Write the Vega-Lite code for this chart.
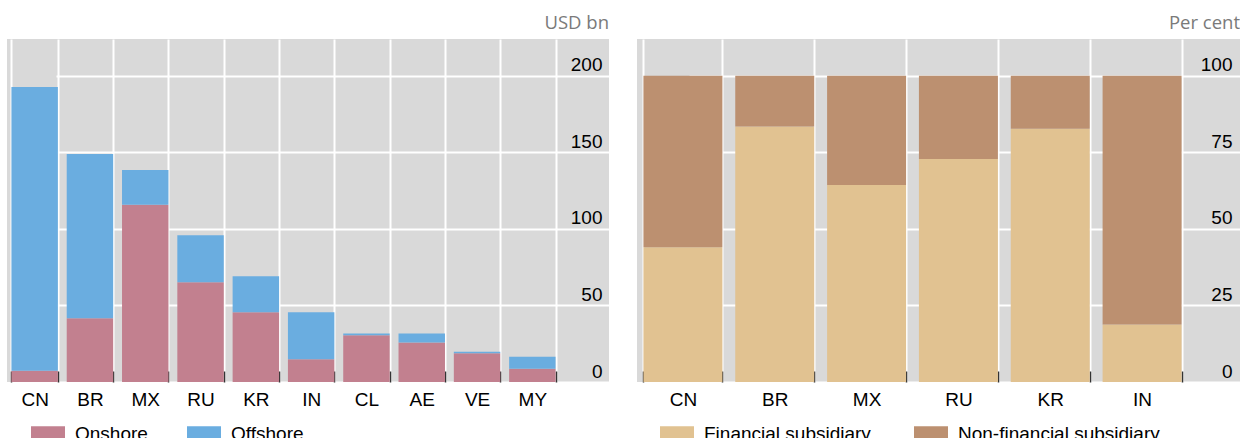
{
  "$schema": "https://vega.github.io/schema/vega-lite/v6.json",
  "background": "white",
  "padding": {"left": 7, "top": 13, "right": 0, "bottom": 0},
  "spacing": 28,
  "datasets": {
    "amounts": [
      {"country": "CN", "type": "Onshore", "value": 7.3},
      {"country": "CN", "type": "Offshore", "value": 185.4},
      {"country": "BR", "type": "Onshore", "value": 41.6},
      {"country": "BR", "type": "Offshore", "value": 107.3},
      {"country": "MX", "type": "Onshore", "value": 115.7},
      {"country": "MX", "type": "Offshore", "value": 22.7},
      {"country": "RU", "type": "Onshore", "value": 65.2},
      {"country": "RU", "type": "Offshore", "value": 30.7},
      {"country": "KR", "type": "Onshore", "value": 45.6},
      {"country": "KR", "type": "Offshore", "value": 23.4},
      {"country": "IN", "type": "Onshore", "value": 14.8},
      {"country": "IN", "type": "Offshore", "value": 30.8},
      {"country": "CL", "type": "Onshore", "value": 30.6},
      {"country": "CL", "type": "Offshore", "value": 1.1},
      {"country": "AE", "type": "Onshore", "value": 25.8},
      {"country": "AE", "type": "Offshore", "value": 5.9},
      {"country": "VE", "type": "Onshore", "value": 18.7},
      {"country": "VE", "type": "Offshore", "value": 1.1},
      {"country": "MY", "type": "Onshore", "value": 8.6},
      {"country": "MY", "type": "Offshore", "value": 7.9}
    ],
    "shares": [
      {"country": "CN", "type": "Financial subsidiary", "value": 44.0},
      {"country": "CN", "type": "Non-financial subsidiary", "value": 56.0},
      {"country": "BR", "type": "Financial subsidiary", "value": 83.4},
      {"country": "BR", "type": "Non-financial subsidiary", "value": 16.6},
      {"country": "MX", "type": "Financial subsidiary", "value": 64.3},
      {"country": "MX", "type": "Non-financial subsidiary", "value": 35.7},
      {"country": "RU", "type": "Financial subsidiary", "value": 72.8},
      {"country": "RU", "type": "Non-financial subsidiary", "value": 27.2},
      {"country": "KR", "type": "Financial subsidiary", "value": 82.7},
      {"country": "KR", "type": "Non-financial subsidiary", "value": 17.3},
      {"country": "IN", "type": "Financial subsidiary", "value": 18.8},
      {"country": "IN", "type": "Non-financial subsidiary", "value": 81.2}
    ]
  },
  "hconcat": [
    {
      "title": {"text": "USD bn", "anchor": "end", "frame": "group", "font": "Open Sans", "fontSize": 18.5, "fontWeight": "normal", "color": "#7a7a7a", "offset": 7},
      "width": 602,
      "height": 343,
      "data": {"name": "amounts"},
      "mark": {"type": "bar"},
      "encoding": {
        "x": {
          "field": "country", "type": "nominal",
          "sort": ["CN", "BR", "MX", "RU", "KR", "IN", "CL", "AE", "VE", "MY"],
          "scale": {"range": [0, 553], "paddingInner": 0.16, "paddingOuter": 0.08},
          "axis": {"title": null, "labelAngle": 0, "tickBand": "extent", "ticks": true, "tickSize": -11, "tickColor": "#333333", "tickWidth": 1.5, "labelPadding": 19, "labelBaseline": "top", "domain": false, "grid": true}
        },
        "y": {
          "field": "value", "type": "quantitative", "stack": "zero",
          "scale": {"domain": [0, 224], "nice": false},
          "axis": {"title": null, "orient": "right", "values": [0, 50, 100, 150, 200], "ticks": false, "domain": false, "labelAlign": "right", "labelBaseline": "alphabetic", "labelPadding": -7, "labelOffset": -5, "grid": true}
        },
        "color": {
          "field": "type", "type": "nominal",
          "scale": {"domain": ["Onshore", "Offshore"], "range": ["#C2808F", "#6AADE0"]},
          "legend": {"title": null, "orient": "none", "legendX": 24, "legendY": 378, "direction": "horizontal", "columnPadding": 39}
        },
        "order": {"field": "type", "sort": "descending"}
      }
    },
    {
      "title": {"text": "Per cent", "anchor": "end", "frame": "group", "font": "Open Sans", "fontSize": 18.5, "fontWeight": "normal", "color": "#7a7a7a", "offset": 7},
      "width": 603,
      "height": 343,
      "data": {"name": "shares"},
      "mark": {"type": "bar"},
      "encoding": {
        "x": {
          "field": "country", "type": "nominal",
          "sort": ["CN", "BR", "MX", "RU", "KR", "IN"],
          "scale": {"range": [0, 551], "paddingInner": 0.14, "paddingOuter": 0.07},
          "axis": {"title": null, "labelAngle": 0, "tickBand": "extent", "ticks": true, "tickSize": -11, "tickColor": "#333333", "tickWidth": 1.5, "labelPadding": 19, "labelBaseline": "top", "domain": false, "grid": true}
        },
        "y": {
          "field": "value", "type": "quantitative", "stack": "zero",
          "scale": {"domain": [0, 112], "nice": false},
          "axis": {"title": null, "orient": "right", "values": [0, 25, 50, 75, 100], "ticks": false, "domain": false, "labelAlign": "right", "labelBaseline": "alphabetic", "labelPadding": -8, "labelOffset": -5, "grid": true}
        },
        "color": {
          "field": "type", "type": "nominal",
          "scale": {"domain": ["Financial subsidiary", "Non-financial subsidiary"], "range": ["#E1C291", "#BC9070"]},
          "legend": {"title": null, "orient": "none", "legendX": 23, "legendY": 378, "direction": "horizontal", "columnPadding": 43}
        },
        "order": {"field": "type", "sort": "ascending"}
      }
    }
  ],
  "resolve": {"scale": {"color": "independent", "x": "independent", "y": "independent"}, "legend": {"color": "independent"}},
  "config": {
    "font": "Liberation Sans",
    "view": {"fill": "#D9D9D9", "stroke": null},
    "axis": {"labelFont": "Liberation Sans", "labelFontSize": 19, "labelColor": "#000000", "gridColor": "#FFFFFF", "gridWidth": 2, "gridOpacity": 1},
    "legend": {"labelFont": "Liberation Sans", "labelFontSize": 19, "labelColor": "#000000", "labelOffset": 10, "symbolType": "M-1,-0.45H1V0.45H-1Z", "symbolSize": 1156, "symbolStrokeWidth": 0, "symbolOpacity": 1, "labelLimit": 400}
  }
}
